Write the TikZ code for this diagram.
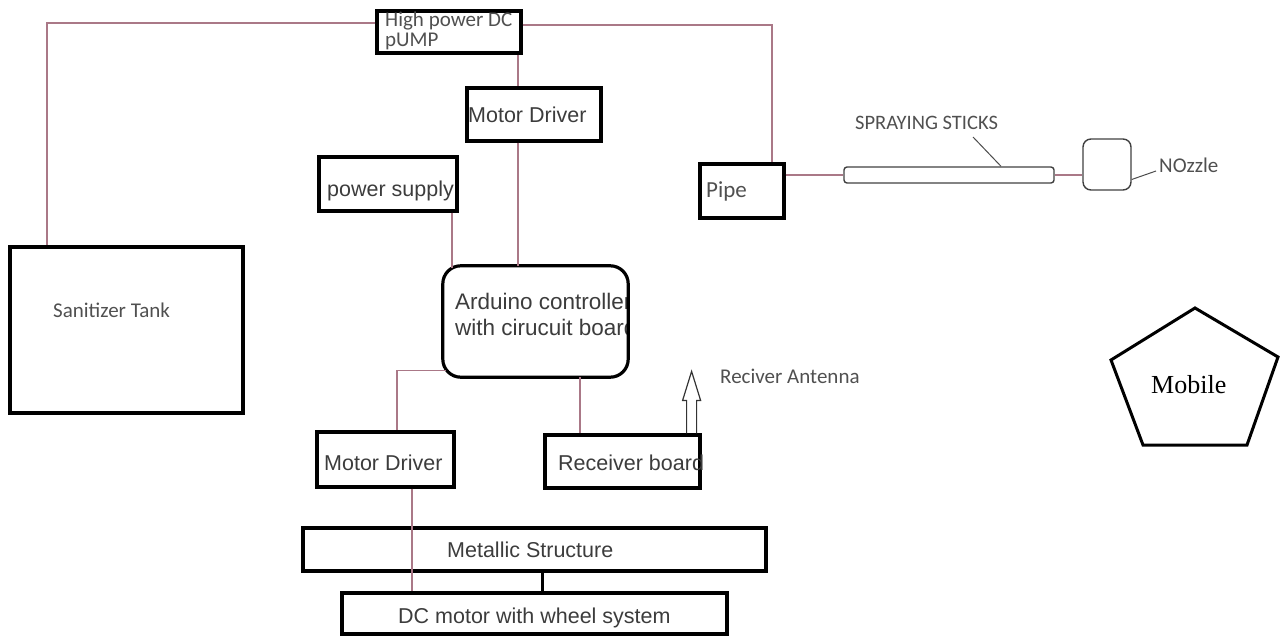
\documentclass[tikz,border=0pt]{standalone}
\usepackage{fontspec}
\setmainfont{Liberation Sans}
\newfontfamily\calibfont{Carlito}
\newfontfamily\tmsfont{Liberation Serif}
\usetikzlibrary{calc}
\definecolor{wire}{RGB}{170,120,135}
\definecolor{txtgray}{RGB}{60,60,60}
\definecolor{calgray}{RGB}{80,80,80}
\tikzset{
  blk/.style={draw=black, line width=3.2pt, inner sep=0pt, rectangle},
  thinblk/.style={draw=black!75, line width=1.4pt, inner sep=0pt, rectangle},
  conn/.style={draw=wire, line width=1.4pt},
  lbl/.style={anchor=base west, inner sep=0pt, text=txtgray, font=\fontsize{21.5}{21.5}\selectfont},
  clbl/.style={anchor=base west, inner sep=0pt, text=calgray, font=\calibfont\fontsize{21}{21}\selectfont},
  leader/.style={draw=black!70, line width=1pt}
}
\begin{document}
\begin{tikzpicture}[x=1pt,y=-1pt]
\useasboundingbox (0,0) rectangle (1280,636);
% boxes
\node[blk, minimum width=144pt, minimum height=42pt] (pump) at (449,32) {};
\node[blk, minimum width=134pt, minimum height=53pt] (md1) at (534,114.5) {};
\node[blk, minimum width=138pt, minimum height=54pt] (ps) at (388,184) {};
\node[blk, minimum width=84pt, minimum height=54pt] (pipe) at (742,191) {};
\node[blk, minimum width=233pt, minimum height=166pt] (tank) at (126.5,330) {};
\node[inner sep=0pt, minimum width=185pt, minimum height=111pt] (ard) at (535.5,321.5) {};
\node[blk, minimum width=137pt, minimum height=55pt] (md2) at (385.5,459.5) {};
\node[blk, minimum width=155pt, minimum height=53pt] (rb) at (622.5,461.5) {};
\node[blk, minimum width=463pt, minimum height=43pt] (metal) at (534.5,549.5) {};
\node[blk, minimum width=385pt, minimum height=41pt] (dcm) at (534.5,613.5) {};
\node[thinblk, rounded corners=3pt, minimum width=210pt, minimum height=16pt] (stick) at (949,175) {};
\node[thinblk, rounded corners=8pt, minimum width=48pt, minimum height=51pt] (nozzle) at (1107,164.5) {};
% texts
\node[clbl] (tpump1) at (385,27) {High power DC};
\node[clbl] (tpump2) at (385,47) {pUMP};
\node[lbl] (tmd1) at (468,123) {Motor Driver};
\node[lbl] (tps) at (327,197) {power supply};
\node[clbl, font=\calibfont\fontsize{23}{23}\selectfont] (tpipe) at (706,198) {Pipe};
\node[clbl] (ttank) at (53,318) {Sanitizer Tank};
\begin{scope}
\clip[rounded corners=18pt] (ard.south west) rectangle (ard.north east);
\node[lbl, font=\fontsize{22.5}{22.5}\selectfont] (tard1) at (455,310) {Arduino controller};
\node[lbl, font=\fontsize{22.5}{22.5}\selectfont] (tard2) at (455,335) {with cirucuit board};
\end{scope}
\node[lbl] (tmd2) at (324,470) {Motor Driver};
\node[lbl] (trb) at (558,470) {Receiver board};
\node[clbl] (tant) at (720,383) {Reciver Antenna};
\node[lbl] (tmetal) at (447,557) {Metallic Structure};
\node[lbl] (tdcm) at (398,623) {DC motor with wheel system};
\node[clbl, font=\calibfont\fontsize{20.5}{20.5}\selectfont] (tspray) at (855,130) {SPRAYING STICKS};
\node[clbl] (tnoz) at (1159,173) {NOzzle};
% arduino border drawn over its text
\draw[black, line width=3.2pt, rounded corners=18pt] (ard.south west) rectangle (ard.north east);
% pump connectors
\draw[conn] ([yshift=9pt]pump.west) -| ([xshift=-79.5pt]tank.north);
\draw[conn] ([yshift=7pt]pump.east) -| ([xshift=30pt]pipe.north);
\draw[conn] ([xshift=-16pt]md1.north |- pump.south) -- ([xshift=-16pt]md1.north);
\draw[conn] ([xshift=-16pt]md1.south) -- ([xshift=-16pt]md1.south |- ard.north);
\draw[conn] ([xshift=64pt]ps.south) -- ([xshift=64pt,yshift=-2pt]ps.south |- ard.north);
\draw[conn] ([xshift=3pt,yshift=7pt]ard.south west) -| ([xshift=11.5pt]md2.north);
\draw[conn] ([xshift=44.5pt]ard.south) -- ([xshift=44.5pt]ard.south |- rb.north);
\draw[conn] ([xshift=26.5pt]md2.south) -- ([xshift=26.5pt]md2.south |- dcm.north);
\draw[black, line width=3pt] ([xshift=7.5pt]metal.south) -- ([xshift=7.5pt]metal.south |- dcm.north);
% spraying line
\draw[conn] ([yshift=16pt]pipe.east) -- (stick.west);
\draw[conn] (stick.east) -- (stick.east -| nozzle.west);
% leaders
\coordinate (sprayA) at (973,137);
\draw[leader] (sprayA) -- ([xshift=52pt]stick.north);
\coordinate (nozA) at (1156,171);
\draw[leader] ([yshift=-15pt]nozzle.east) -- (nozA);
% antenna arrow
\coordinate (antbase) at ([xshift=-10pt]rb.north east);
\draw[black!80, line width=1.2pt, line join=miter]
  ($(antbase)+(-5,0)$) -- ($(antbase)+(-5,-33)$) -- ($(antbase)+(-9,-33)$) -- ($(antbase)+(0,-62)$)
  -- ($(antbase)+(9,-33)$) -- ($(antbase)+(5,-33)$) -- ($(antbase)+(5,0)$);
% mobile pentagon
\draw[black, line width=3pt, line join=miter] (1195,308) -- (1278,357) -- (1247,445) -- (1143,445) -- (1111,360) -- cycle;
\node[anchor=base west, inner sep=0pt, font=\tmsfont\fontsize{26}{26}\selectfont] (mobile) at (1151,393) {Mobile};
\end{tikzpicture}
\end{document}
